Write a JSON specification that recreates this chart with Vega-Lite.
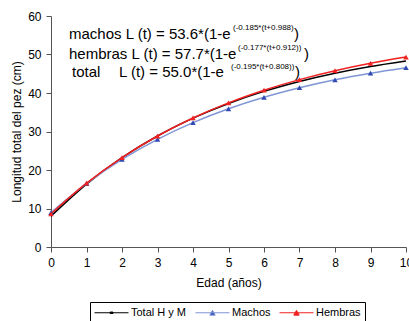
{
  "$schema": "https://vega.github.io/schema/vega-lite/v6.json",
  "width": 355,
  "height": 231,
  "autosize": {"type": "none"},
  "padding": {"left": 51, "top": 16, "right": 3, "bottom": 74},
  "config": {
    "view": {"stroke": null},
    "font": "Liberation Sans",
    "axis": {
      "grid": false,
      "domainColor": "#555555",
      "tickColor": "#555555",
      "tickSize": 5,
      "labelColor": "#000000",
      "labelFontSize": 12,
      "titleFontSize": 12,
      "titleFontWeight": "normal",
      "titleColor": "#000000",
      "labelOverlap": false
    }
  },
  "datasets": {
    "curvas": [
      {"t": 0, "serie": "Total H y M", "L": 8.02},
      {"t": 1, "serie": "Total H y M", "L": 16.34},
      {"t": 2, "serie": "Total H y M", "L": 23.19},
      {"t": 3, "serie": "Total H y M", "L": 28.83},
      {"t": 4, "serie": "Total H y M", "L": 33.46},
      {"t": 5, "serie": "Total H y M", "L": 37.28},
      {"t": 6, "serie": "Total H y M", "L": 40.42},
      {"t": 7, "serie": "Total H y M", "L": 43.0},
      {"t": 8, "serie": "Total H y M", "L": 45.13},
      {"t": 9, "serie": "Total H y M", "L": 46.88},
      {"t": 10, "serie": "Total H y M", "L": 48.32},
      {"t": 0, "serie": "Machos", "L": 8.95},
      {"t": 1, "serie": "Machos", "L": 16.49},
      {"t": 2, "serie": "Machos", "L": 22.76},
      {"t": 3, "serie": "Machos", "L": 27.97},
      {"t": 4, "serie": "Machos", "L": 32.3},
      {"t": 5, "serie": "Machos", "L": 35.9},
      {"t": 6, "serie": "Machos", "L": 38.89},
      {"t": 7, "serie": "Machos", "L": 41.37},
      {"t": 8, "serie": "Machos", "L": 43.44},
      {"t": 9, "serie": "Machos", "L": 45.15},
      {"t": 10, "serie": "Machos", "L": 46.58},
      {"t": 0, "serie": "Hembras", "L": 8.6},
      {"t": 1, "serie": "Hembras", "L": 16.57},
      {"t": 2, "serie": "Hembras", "L": 23.24},
      {"t": 3, "serie": "Hembras", "L": 28.83},
      {"t": 4, "serie": "Hembras", "L": 33.51},
      {"t": 5, "serie": "Hembras", "L": 37.44},
      {"t": 6, "serie": "Hembras", "L": 40.72},
      {"t": 7, "serie": "Hembras", "L": 43.48},
      {"t": 8, "serie": "Hembras", "L": 45.79},
      {"t": 9, "serie": "Hembras", "L": 47.72},
      {"t": 10, "serie": "Hembras", "L": 49.34}
    ],
    "textos": [
      {"t": 0.507, "L": 54.1, "txt": "machos L (t) = 53.6*(1-e", "tipo": "main"},
      {"t": 5.127, "L": 54.1, "txt": "(-0.185*(t+0.988)", "tipo": "sup"},
      {"t": 6.845, "L": 54.1, "txt": ")", "tipo": "main"},
      {"t": 0.507, "L": 48.89, "txt": "hembras L (t) = 57.7*(1-e", "tipo": "main"},
      {"t": 5.268, "L": 48.89, "txt": "(-0.177*(t+0.912))", "tipo": "sup"},
      {"t": 7.127, "L": 48.89, "txt": ")", "tipo": "main"},
      {"t": 0.592, "L": 44.13, "txt": "total", "tipo": "main"},
      {"t": 1.915, "L": 44.13, "txt": "L (t) = 55.0*(1-e", "tipo": "main"},
      {"t": 5.07, "L": 44.13, "txt": "(-0.195*(t+0.808))", "tipo": "sup"},
      {"t": 6.873, "L": 44.13, "txt": ")", "tipo": "main"}
    ]
  },
  "encoding": {
    "x": {
      "field": "t",
      "type": "quantitative",
      "scale": {"domain": [0, 10], "nice": false},
      "axis": {
        "title": "Edad (años)",
        "values": [0, 1, 2, 3, 4, 5, 6, 7, 8, 9, 10],
        "labelPadding": 5,
        "titlePadding": 9,
        "labelFlush": false,
        "labelBound": false
      }
    },
    "y": {
      "field": "L",
      "type": "quantitative",
      "scale": {"domain": [0, 60], "nice": false},
      "axis": {
        "title": "Longitud total del pez (cm)",
        "values": [0, 10, 20, 30, 40, 50, 60],
        "labelPadding": 5,
        "titlePadding": 4
      }
    }
  },
  "layer": [
    {
      "data": {"name": "curvas"},
      "mark": {"type": "line", "strokeWidth": 1.5, "interpolate": "monotone"},
      "encoding": {
        "color": {
          "field": "serie",
          "type": "nominal",
          "scale": {
            "domain": ["Total H y M", "Machos", "Hembras"],
            "range": ["#000000", "#7f95d6", "#f02020"]
          },
          "legend": {
            "title": null,
            "orient": "none",
            "legendX": 39,
            "legendY": 286,
            "direction": "horizontal",
            "columns": 3,
            "strokeColor": "#000000",
            "fillColor": "#ffffff",
            "padding": 4,
            "cornerRadius": 0,
            "symbolSize": 144,
            "symbolType": "M-1,0H4.667M1.383,0.4L1.833,-0.4L2.283,0.4Z",
            "symbolStrokeWidth": 1,
            "labelFontSize": 11,
            "labelColor": "#000000",
            "labelOffset": 24,
            "columnPadding": 6,
            "encode": {
              "symbols": {
                "update": {
                  "shape": {"signal": "datum.value === 'Total H y M' ? 'M-1,0H4.667M1.6,0.12H2.07V-0.12H1.6Z' : 'M-1,0H4.667M1.383,0.4L1.833,-0.4L2.283,0.4Z'"},
                  "fill": {"scale": "fill", "field": "value"},
                  "opacity": {"value": 1}
                }
              }
            }
          }
        }
      }
    },
    {
      "data": {"name": "curvas"},
      "transform": [{"filter": "datum.serie !== 'Total H y M'"}],
      "mark": {"type": "point", "shape": "triangle-up", "filled": true, "size": 30, "opacity": 1},
      "encoding": {
        "fill": {
          "field": "serie",
          "type": "nominal",
          "scale": {
            "domain": ["Total H y M", "Machos", "Hembras"],
            "range": ["#000000", "#3049b0", "#f02020"]
          },
          "legend": null
        }
      }
    },
    {
      "data": {"name": "textos"},
      "transform": [{"filter": "datum.tipo === 'main'"}],
      "mark": {"type": "text", "align": "left", "baseline": "alphabetic", "fontSize": 15, "color": "#000000"},
      "encoding": {
        "text": {"field": "txt", "type": "nominal"}
      }
    },
    {
      "data": {"name": "textos"},
      "transform": [{"filter": "datum.tipo === 'sup'"}],
      "mark": {"type": "text", "align": "left", "baseline": "alphabetic", "fontSize": 8, "dy": -8.5, "color": "#000000"},
      "encoding": {
        "text": {"field": "txt", "type": "nominal"}
      }
    }
  ]
}
